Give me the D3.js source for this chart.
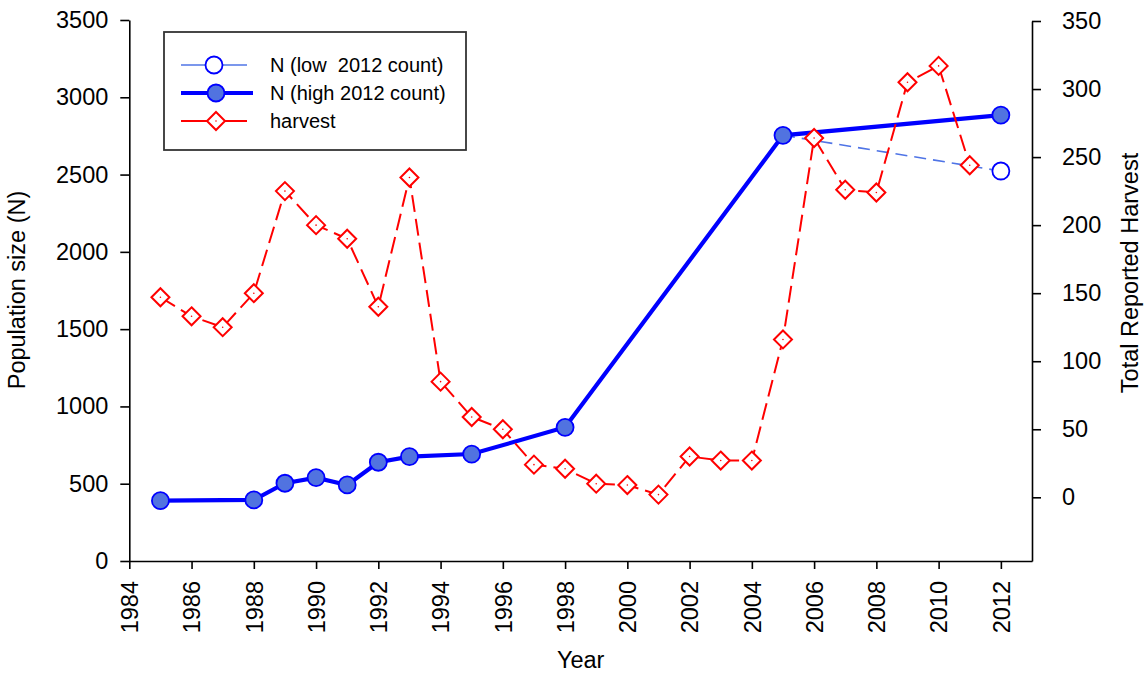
<!DOCTYPE html>
<html><head><meta charset="utf-8">
<script src="https://cdnjs.cloudflare.com/ajax/libs/d3/7.8.5/d3.min.js"></script>
<style>
html,body{margin:0;padding:0;background:#fff;}
svg{display:block;font-family:"Liberation Sans",Arial,sans-serif;}
</style></head>
<body><svg id="c" width="1145" height="673"></svg>
<script>
// ---- data ----
const nHighYears = [1985, 1988, 1989, 1990, 1991, 1992, 1993, 1995, 1998, 2005, 2012];
const nHighValues = [390, 395, 503, 539, 492, 639, 675, 692, 865, 2754, 2885];
const nLowYears = [2005, 2012];
const nLowValues = [2754, 2523];
const harvestYears = [1985,1986,1987,1988,1989,1990,1991,1992,1993,1994,1995,1996,1997,1998,1999,2000,2001,2002,2003,2004,2005,2006,2007,2008,2009,2010,2011];
const harvestValues = [147,133,125,150,225,200,190,140,235,85,59,50,24,21,10,9,2,30,27,27,116,264,226,224,305,317,244];
const xTicks = [1984,1986,1988,1990,1992,1994,1996,1998,2000,2002,2004,2006,2008,2010,2012];
const leftTicks = [0,500,1000,1500,2000,2500,3000,3500];
const rightTicks = [0,50,100,150,200,250,300,350];
const legendLabels = ["N (low  2012 count)", "N (high 2012 count)", "harvest"];

// ---- layout ----
const svg = d3.select("#c");
const L = 129.3, R = 1032, T = 20, B = 561;
const x = d3.scaleLinear().domain([1984, 2013]).range([L, R]);
const yL = d3.scaleLinear().domain([0, 3500]).range([B, T]);
const yR = d3.scaleLinear().domain([-46.8, 350]).range([B, 21]);

const fs = 23.5;
const FF = "Liberation Sans, Arial, sans-serif";
// axes
const gx = svg.append("g").attr("transform", `translate(0,${B})`)
  .call(d3.axisBottom(x).tickValues(xTicks).tickFormat(d3.format("d")).tickSize(8).tickSizeOuter(0));
gx.selectAll("text").attr("transform", "rotate(-90)").attr("text-anchor", "end")
  .attr("x", -20).attr("y", 0).attr("dy", "0.35em");
const gl = svg.append("g").attr("transform", `translate(${L},0)`)
  .call(d3.axisLeft(yL).tickValues(leftTicks).tickFormat(d3.format("d")).tickSize(9).tickSizeOuter(0));
gl.selectAll("text").attr("x", -21);
const gr = svg.append("g").attr("transform", `translate(${R},0)`)
  .call(d3.axisRight(yR).tickValues(rightTicks).tickFormat(d3.format("d")).tickSize(9).tickSizeOuter(0));
gr.selectAll("text").attr("x", 30);
svg.selectAll("g").attr("font-size", fs).attr("font-family", FF);
svg.selectAll(".tick text").attr("font-size", fs).attr("fill", "#000");
svg.selectAll(".domain, .tick line").attr("stroke", "#000").attr("stroke-width", 1.6);

// titles
svg.append("text").attr("x", x(1998.5)).attr("y", 668).attr("text-anchor", "middle").attr("font-size", fs).text("Year");
svg.append("text").attr("transform", `translate(25,290) rotate(-90)`).attr("text-anchor", "middle").attr("font-size", fs).text("Population size (N)");
svg.append("text").attr("transform", `translate(1138,273) rotate(-90)`).attr("text-anchor", "middle").attr("font-size", fs).text("Total Reported Harvest");

const blue = "#0000ff", fillBlue = "#5173e0", lowBlue = "#4f74e6", red = "#ff0000";

const nLow = nLowYears.map((d, i) => ({ x: d, y: nLowValues[i] }));
const nHigh = nHighYears.map((d, i) => ({ x: d, y: nHighValues[i] }));
const harvest = harvestYears.map((d, i) => ({ x: d, y: harvestValues[i] }));
const lineL = d3.line().x(d => x(d.x)).y(d => yL(d.y));
const lineR = d3.line().x(d => x(d.x)).y(d => yR(d.y));

svg.append("path").datum(nLow).attr("d", lineL).attr("fill", "none").attr("stroke", lowBlue)
  .attr("stroke-width", 1.6).attr("stroke-dasharray", "12,7");
svg.append("path").datum(nHigh).attr("d", lineL).attr("fill", "none").attr("stroke", blue)
  .attr("stroke-width", 4.2);

// harvest
svg.append("path").datum(harvest).attr("d", lineR).attr("fill", "none").attr("stroke", red)
  .attr("stroke-width", 2).attr("stroke-dasharray", "17,7");
const diamond = "M0,-9L9,0L0,9L-9,0Z";
const hg = svg.append("g").selectAll("g").data(harvest).join("g")
  .attr("transform", d => `translate(${x(d.x)},${yR(d.y)})`);
hg.append("path").attr("d", diamond).attr("fill", "#fff").attr("stroke", red).attr("stroke-width", 2);
hg.append("circle").attr("r", 0.8).attr("fill", red);

// N markers
svg.append("g").selectAll("circle").data(nLow.slice(1)).join("circle")
  .attr("cx", d => x(d.x)).attr("cy", d => yL(d.y)).attr("r", 8.5)
  .attr("fill", "#fff").attr("stroke", blue).attr("stroke-width", 1.8);
svg.append("g").selectAll("circle").data(nHigh).join("circle")
  .attr("cx", d => x(d.x)).attr("cy", d => yL(d.y)).attr("r", 8.5)
  .attr("fill", fillBlue).attr("stroke", blue).attr("stroke-width", 1.8);

// legend
const lg = svg.append("g");
lg.append("rect").attr("x", 164).attr("y", 32).attr("width", 302).attr("height", 118)
  .attr("fill", "#fff").attr("stroke", "#333").attr("stroke-width", 1.8);
const rowsY = [65, 93, 121];
lg.append("line").attr("x1", 181).attr("x2", 247).attr("y1", rowsY[0]).attr("y2", rowsY[0])
  .attr("stroke", lowBlue).attr("stroke-width", 1.6);
lg.append("line").attr("x1", 181).attr("x2", 253).attr("y1", rowsY[1]).attr("y2", rowsY[1])
  .attr("stroke", blue).attr("stroke-width", 4.2);
lg.append("line").attr("x1", 181).attr("x2", 247).attr("y1", rowsY[2]).attr("y2", rowsY[2])
  .attr("stroke", red).attr("stroke-width", 2);
lg.append("circle").attr("cx", 214).attr("cy", rowsY[0]).attr("r", 8.5).attr("fill", "#fff").attr("stroke", blue).attr("stroke-width", 1.8);
lg.append("circle").attr("cx", 216).attr("cy", rowsY[1]).attr("r", 8.5).attr("fill", fillBlue).attr("stroke", blue).attr("stroke-width", 1.8);
const ld = lg.append("g").attr("transform", `translate(216,${rowsY[2]})`);
ld.append("path").attr("d", diamond).attr("fill", "#fff").attr("stroke", red).attr("stroke-width", 2);
ld.append("circle").attr("r", 0.8).attr("fill", red);
lg.selectAll("text.lt").data(legendLabels).join("text").attr("class", "lt")
  .attr("x", 270).attr("y", (d, i) => rowsY[i]).attr("dy", "0.35em").attr("font-size", 20)
  .style("white-space", "pre").text(d => d);
</script></body></html>
